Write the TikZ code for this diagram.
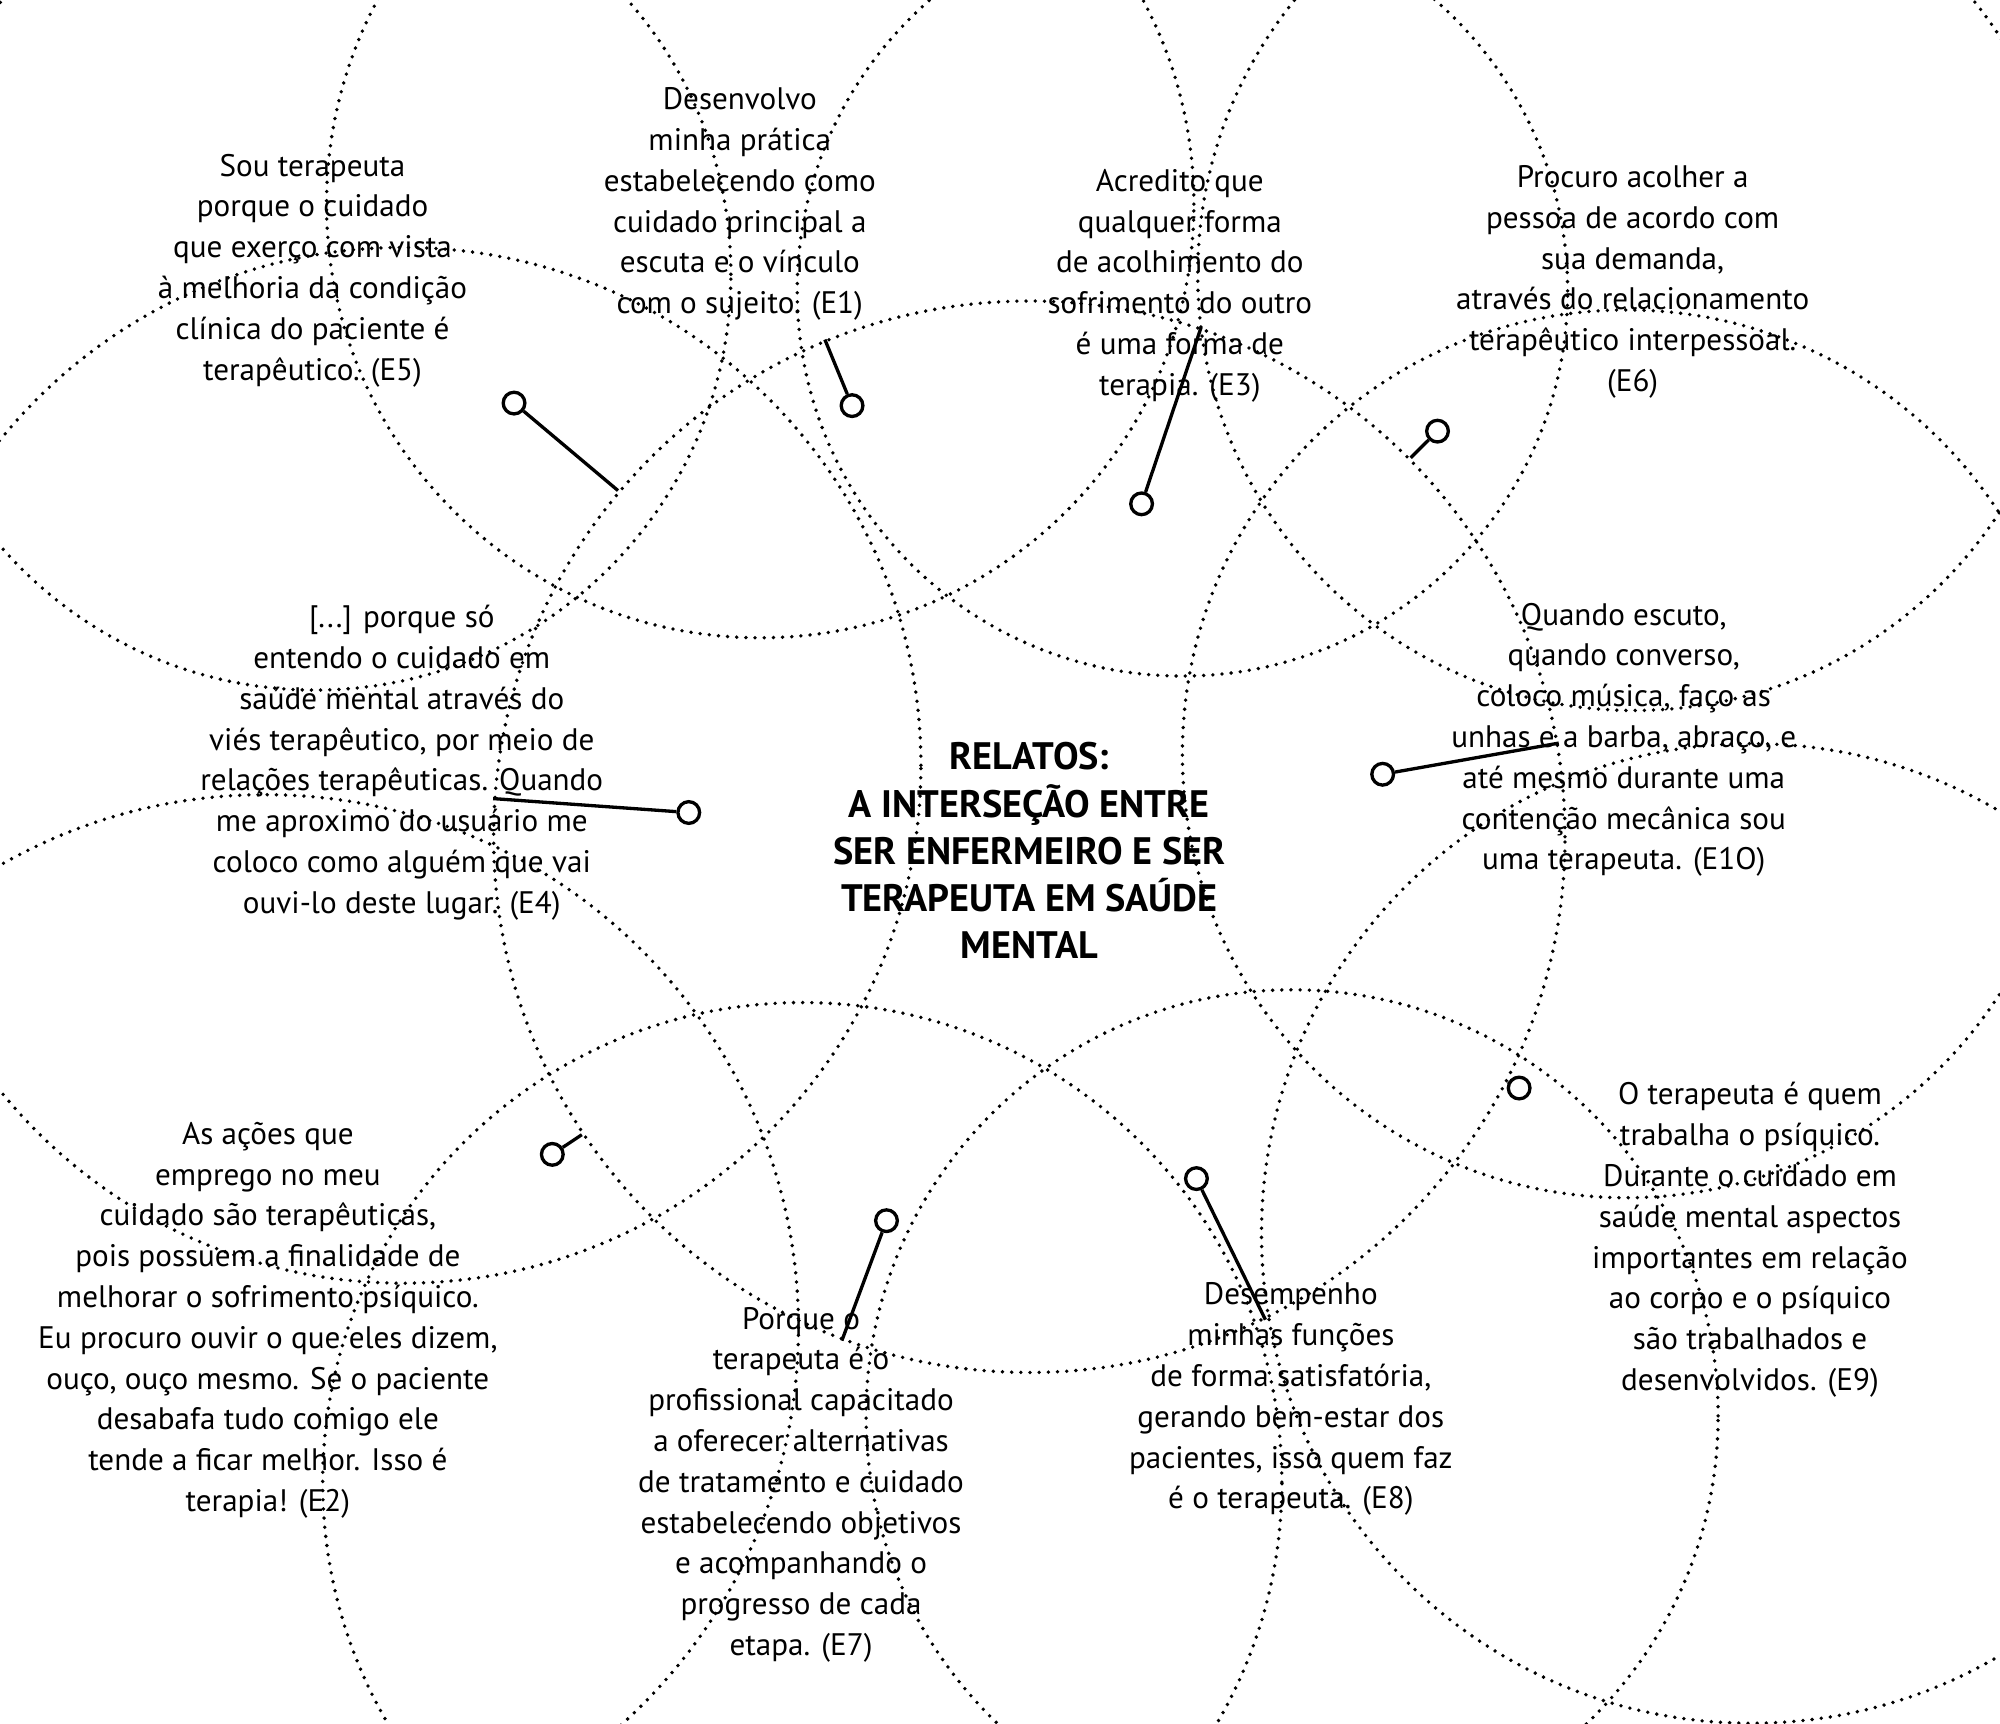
\documentclass[tikz,border=0pt]{standalone}
\usepackage{fontspec}
\setmainfont{PT Sans}
\begin{document}
\begin{tikzpicture}[x=0.5pt,y=-0.5pt,
  bub/.style={circle,draw,line width=1.5pt,dash pattern=on 0pt off 3.6pt,line cap=round,inner sep=0pt},
  txt/.style={align=center,font=\fontsize{12.2}{16}\selectfont},
  dot/.style={circle,draw,line width=1.3pt,fill=white,minimum size=8.5pt,inner sep=0pt},
  con/.style={line width=1.3pt}]
\useasboundingbox (0,0) rectangle (1568,1351);
\node[bub,minimum size=420] (c) at (807,656) {};
\node[align=center,font=\fontsize{15}{18.5}\selectfont\bfseries] (ct) at (807,667) {RELATOS:\\A INTERSEÇÃO ENTRE\\SER ENFERMEIRO E SER\\TERAPEUTA EM SAÚDE\\MENTAL};
\node[bub,minimum size=326] (b5) at (247,215) {};
\node[bub,minimum size=340] (b1) at (596,160) {};
\node[bub,minimum size=302] (b3) at (927,228) {};
\node[bub,minimum size=342] (b6) at (1281,215) {};
\node[bub,minimum size=406] (b4) at (316,600) {};
\node[bub,minimum size=348] (b10) at (1275,591) {};
\node[bub,minimum size=418] (b2) at (208,1041) {};
\node[bub,minimum size=376] (b7) at (629,1162) {};
\node[bub,minimum size=334] (b8) at (1013,1110) {};
\node[bub,minimum size=384] (b9) at (1373,967) {};
\node[txt] (t5) at (245,212) {Sou terapeuta\\porque o cuidado\\que exerço com vista\\à melhoria da condição\\clínica do paciente é\\terapêutico. (E5)};
\node[txt] (t1) at (580,160) {Desenvolvo\\minha prática\\estabelecendo como\\cuidado principal a\\escuta e o vínculo\\com o sujeito. (E1)};
\node[txt] (t3) at (925,224) {Acredito que\\qualquer forma\\de acolhimento do\\sofrimento do outro\\é uma forma de\\terapia. (E3)};
\node[txt] (t6) at (1280,221) {Procuro acolher a\\pessoa de acordo com\\sua demanda,\\através do relacionamento\\terapêutico interpessoal.\\(E6)};
\node[txt] (t4) at (315,598) {[...] porque só\\entendo o cuidado em\\saúde mental através do\\viés terapêutico, por meio de\\relações terapêuticas. Quando\\me aproximo do usuário me\\coloco como alguém que vai\\ouvi-lo deste lugar. (E4)};
\node[txt] (t10) at (1273,580) {Quando escuto,\\quando converso,\\coloco música, faço as\\unhas e a barba, abraço, e\\até mesmo durante uma\\contenção mecânica sou\\uma terapeuta. (E1O)};
\node[txt] (t2) at (210,1035) {As ações que\\emprego no meu\\cuidado são terapêuticas,\\pois possuem a finalidade de\\melhorar o sofrimento psíquico.\\Eu procuro ouvir o que eles dizem,\\ouço, ouço mesmo. Se o paciente\\desabafa tudo comigo ele\\tende a ficar melhor. Isso é\\terapia! (E2)};
\node[txt] (t7) at (628,1164) {Porque o\\terapeuta é o\\profissional capacitado\\a oferecer alternativas\\de tratamento e cuidado\\estabelecendo objetivos\\e acompanhando o\\progresso de cada\\etapa. (E7)};
\node[txt] (t8) at (1012,1097) {Desempenho\\minhas funções\\de forma satisfatória,\\gerando bem-estar dos\\pacientes, isso quem faz\\é o terapeuta. (E8)};
\node[txt] (t9) at (1372,972) {O terapeuta é quem\\trabalha o psíquico.\\Durante o cuidado em\\saúde mental aspectos\\importantes em relação\\ao corpo e o psíquico\\são trabalhados e\\desenvolvidos. (E9)};
\foreach \n/\x/\y in {5/403/316,1/668/318,3/895/395,6/1127/338,4/540/637,10/1084/607,9/1191/853,2/433/905,7/695/957,8/938/924}{
  \node[dot] (d\n) at (\x,\y) {};
}
\foreach \n in {5,1,3,6,4,10,9,2,7,8}{
  \draw[con] (d\n) -- (c);
}
\end{tikzpicture}
\end{document}
